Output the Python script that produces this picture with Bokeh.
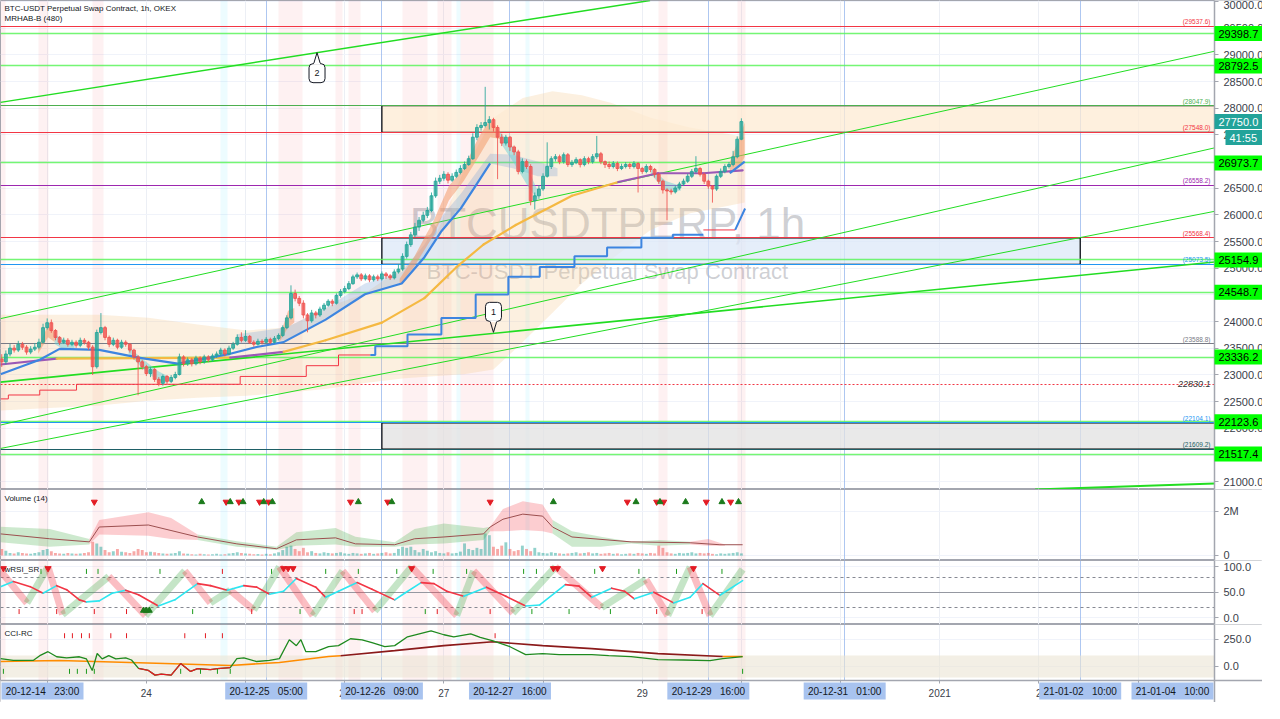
import numpy as np
from bokeh.plotting import figure
from bokeh.layouts import column
from bokeh.models import Range1d, FixedTicker, Label, NumeralTickFormatter, LinearAxis, Grid
from bokeh.embed import file_html
from bokeh.resources import INLINE
from bokeh.core.properties import value

FONT = "Liberation Sans"

# ---------------- DATA (time in hours from 2020-12-24 00:00) ----------------
FIRST_HOUR = -35
OPEN_FIRST = 23300
closes = [23247,23393,23503,23467,23576,23521,23430,23485,23521,23613,
          23887,23979,23833,23704,23613,23650,23576,23613,23558,23650,
          23613,23521,23155,23796,23887,23704,23576,23650,23521,23613,
          23576,23467,23338,23247,23155,23027,23101,22918,22844,22972,
          22881,22954,23009,23338,23210,23284,23210,23320,23247,23338,
          23284,23357,23393,23467,23393,23503,23576,23704,23650,23723,
          23613,23576,23631,23613,23668,23613,23686,23741,23887,24070,
          24528,24436,24345,24125,24016,24162,24125,24235,24308,24382,
          24345,24491,24565,24619,24711,24839,24876,24802,24857,24784,
          24839,24802,24894,24857,24821,24931,24985,25223,25443,25626,
          25772,25900,25992,26083,26358,26632,26687,26761,26651,26724,
          26797,26870,26944,27053,27456,27639,27676,27730,27785,27639,
          27456,27346,27456,27273,27181,26815,26998,26907,26266,26358,
          26486,26724,26907,27053,27090,26998,27127,26944,26980,27035,
          26944,27053,26998,27090,27145,26998,26944,26907,26962,26870,
          26907,26944,26907,26962,26870,26815,26907,26852,26761,26632,
          26468,26449,26431,26504,26578,26632,26724,26815,26870,26761,
          26632,26541,26486,26724,26815,26907,26944,27090,27419,27749]
highs = [23390,23460,23580,23560,23640,23620,23560,23540,23600,23680,
         23960,24060,24040,23860,23730,23700,23690,23660,23650,23700,
         23690,23640,23560,23850,24160,23920,23740,23700,23680,23660,
         23650,23600,23490,23370,23280,23190,23150,23130,22960,23010,
         23000,23000,23060,23400,23370,23330,23320,23360,23350,23380,
         23370,23400,23440,23510,23500,23550,23620,23760,23800,23840,
         23750,23650,23680,23670,23710,23700,23730,23780,23930,24120,
         24680,24600,24480,24400,24160,24220,24200,24280,24350,24420,
         24420,24530,24610,24670,24760,24880,24920,24910,24900,24890,
         24880,24880,24940,24930,24890,24980,25080,25280,25500,25680,
         25850,25960,26060,26150,26420,26700,26750,26820,26800,26780,
         26850,26930,27000,27110,27530,27700,27740,28400,27850,27820,
         27680,27520,27500,27480,27300,27220,27060,27040,26950,26420,
         26560,26780,27360,27100,27140,27130,27170,27160,27030,27080,
         27060,27100,27090,27140,27480,27180,27020,27000,27010,27000,
         26960,26990,26980,27010,26990,26900,26950,26940,26880,26790,
         26660,26500,26490,26550,26620,26680,26770,26860,27100,26900,
         26790,26660,26560,26760,26870,26950,26990,27200,27470,27810]
lows = [23150,23200,23350,23420,23430,23470,23380,23390,23450,23480,
        23590,23850,23790,23650,23560,23580,23530,23540,23510,23520,
        23570,23470,23000,23120,23760,23650,23520,23540,23480,23490,
        23530,23420,23290,22620,23100,22980,22960,22870,22790,22800,
        22830,22850,22920,22990,23160,23170,23160,23180,23200,23210,
        23240,23250,23320,23360,23350,23370,23470,23550,23610,23620,
        23580,23530,23550,23570,23590,23580,23590,23650,23710,23860,
        24040,24380,24290,24060,23800,23980,24060,24090,24200,24280,
        24290,24320,24450,24530,24590,24690,24800,24760,24770,24740,
        24750,24760,24770,24800,24780,24790,24900,24950,25180,25400,
        25580,25700,25860,25940,26050,26320,26580,26640,26590,26620,
        26690,26760,26840,26920,27030,27400,27580,27640,27600,27560,
        26670,27290,27300,27200,27120,26760,26780,26860,26180,26100,
        26300,26450,26700,26860,27000,26950,26960,26900,26900,26950,
        26890,26910,26950,26960,27050,26950,26880,26860,26870,26820,
        26840,26870,26860,26870,26420,26770,26780,26800,26700,26580,
        26400,25900,26380,26400,26470,26540,26600,26690,26780,26720,
        26580,26490,26230,26450,26690,26780,26870,26910,27060,27400]
volume_m = [0.30,0.22,0.12,0.10,0.15,0.12,0.10,0.08,0.12,0.15,
            0.25,0.30,0.20,0.12,0.10,0.08,0.12,0.10,0.08,0.10,
            0.12,0.15,0.62,0.55,0.40,0.25,0.15,0.20,0.30,0.18,
            0.15,0.12,0.20,0.30,0.25,0.15,0.18,0.15,0.12,0.10,
            0.08,0.10,0.12,0.20,0.10,0.08,0.06,0.05,0.08,0.06,
            0.05,0.06,0.08,0.05,0.06,0.10,0.12,0.15,0.12,0.10,
            0.08,0.06,0.07,0.05,0.08,0.06,0.10,0.15,0.25,0.40,
            0.45,0.30,0.20,0.35,0.15,0.20,0.12,0.10,0.15,0.12,
            0.10,0.12,0.15,0.10,0.08,0.12,0.10,0.08,0.10,0.12,
            0.08,0.10,0.12,0.15,0.10,0.12,0.30,0.40,0.35,0.40,
            0.25,0.15,0.30,0.22,0.15,0.20,0.12,0.10,0.15,0.10,
            0.12,0.18,0.55,0.30,0.25,0.35,0.30,1.00,0.92,0.40,
            0.30,0.45,0.60,0.30,0.20,0.25,0.45,0.30,0.20,0.35,
            0.15,0.12,0.10,0.15,0.12,0.10,0.08,0.10,0.12,0.15,
            0.10,0.12,0.15,0.10,0.12,0.08,0.10,0.12,0.08,0.10,
            0.06,0.08,0.10,0.08,0.12,0.10,0.08,0.12,0.10,0.45,
            0.35,0.15,0.10,0.08,0.12,0.10,0.12,0.15,0.10,0.12,
            0.10,0.12,0.08,0.06,0.10,0.08,0.10,0.12,0.15,0.10]

# overlays on price
env_h  = [-35.3,-11.4,0.5,12.4,24.3,33.9,43.4,52.9,62.5,69.6,76.8,84.0,91.1,98.3,105.4,112.6,122.1,131.6,141.2,144.8]
env_hi = [24129,24129,24074,23946,23836,23891,24257,24531,25043,25537,26817,27823,28189,28317,28244,28098,27823,27640,27512,27457]
env_lo = [22336,22428,22519,22574,22611,22665,22739,22848,22940,22976,23013,23104,23616,24165,24714,25171,25720,26031,26177,26232]

fb_h  = [21.9,33.9,43.4,52.9,61.8,67.3,71.3,76.1,79.2,83.2,88.7,94.7,99.5]
fb_hi = [23763,23891,24257,24714,24933,25446,25958,26397,26726,27146,27128,27000,26872]
fb_lo = [23580,23653,24037,24513,24714,25208,25683,26122,26488,26964,26872,26726,26726]

fma_h = [-35.3,-25.8,-21.0,-11.4,-1.9,7.6,20.3,26.7,33.2,43.4,52.9,61.8,67.3,71.3,76.1,79.2,83.2]
fma_v = [23013,23287,23489,23470,23324,23214,23397,23525,23616,24037,24513,24714,25208,25683,26122,26488,26964]
fma2_h = [141.2,144.8]
fma2_v = [26781,27000]

sma_h = [-35.3,-21.7,20.3,33.2,43.4,57.0,67.3,75.1,81.6,89.4,103.0,114.2,123.8,134.7,144.3]
sma_v = [23196,23306,23324,23434,23650,23982,24440,25025,25445,25811,26360,26616,26781,26781,26836]
sma_purple_segments = [0, 2, 11, 12, 13]

stop_red_h = [-35.3,-33.4,-25.8,-16.9,22.7,38.7,46.5,54.2]
stop_red_v = [22552,22625,22716,22826,22973,23174,23375,23375]
stop_blue_h = [54.2,55.4,63.2,71.4,79.7,87.6,95.2,103.6,111.5,119.8,127.4,134.8]
stop_blue_v = [23375,23540,23759,24070,24510,24839,25022,25223,25388,25571,25626,25626]
stop_red2_h = [134.8,142.5]
stop_red2_v = [25718,25718]
stop_blue2_h = [142.5,144.9]
stop_blue2_v = [25718,26120]

rib_up = [([-26.2,-23.8,-22.2],[23397,23708,23616],[23525,23927,23799]),
          ([32.2,34.3,35.8],[23616,23891,23982],[23708,24202,24257]),
          ([61.3,64.9,69.6,73.2,76.8,80.4,83.2,85.6],[24677,25043,25628,26269,26634,27090,27457,27421],[24805,25226,25903,26543,26872,27457,27787,27549]),
          ([141.2,143.6,144.8],[26762,26909,27092],[26998,27457,27732])]
rib_dn = [([-22.2,-19.8,-17.4],[23580,23470,23470],[23763,23653,23580]),
          ([-4.3,-0.7,2.9,5.2],[23397,23104,22885,22848],[23525,23287,23068,22976]),
          ([85.6,88.7,92.3,94.7],[27366,27000,26543,26269],[27549,27275,26872,26451]),
          ([122.1,125.7,129.3],[26762,26451,26451],[26872,26634,26543])]

levels_green = [29398.7, 28792.5, 26973.7, 25154.9, 24548.7, 23336.2, 22123.6, 21517.4]
levels_other = [29537.6, 28047.9, 27548.0, 26558.2, 25568.4, 25073.5, 23588.8, 22104.1, 21609.2]
levels_other_col = ["#f23645", "#4caf50", "#f23645", "#9c27b0", "#f23645", "#2196f3", "#787b86", "#2196f3", "#1e5f66"]
level_dotted = 22830.1
last_price = 27750.0
countdown = "41:55"

zone_left = [57, 57, 57]
zone_right = [300, 226, 300]
zone_top = [28047.9, 25568.4, 22104.1]
zone_bottom = [27548.0, 25073.5, 21609.2]
zone_fill = ["#fdebd3", "#dce8f8", "#e2e2e2"]

tl_x0 = [-35.3,-35.3,-35.3,-35.3,-35.3,215.1]
tl_y0 = [28109,24056,22062,21623,22867,20855]
tl_x1 = [121.9,258.5,258.5,258.5,258.5,258.5]
tl_y1 = [30018,29067,27256,26067,25116,20965]
tl_w  = [1.5,1,1,1,1.6,2]

callout_h = [41.3, 84.0]
callout_apex = [29040, 23799]
callout_text = ["2", "1"]
callout_up = [True, False]

bg_pink = [(-35.3,-34.2),(-26.2,-23.8),(-13.1,-10.3),(32.0,37.9),(45.8,47.5),(49.0,51.9),(62.0,68.0),(70.5,73.9),(76.0,83.9),(124.0,126.0),(143.0,145.0)]
bg_cyan = [(17.9,19.6),(75.0,76.0),(91.8,92.8)]

event_h = [29, 57, 88, 136, 169, 226]
event_txt = ["20-12-25   05:00", "20-12-26   09:00", "20-12-27   16:00", "20-12-29   16:00", "20-12-31   01:00", "21-01-02   10:00"]
event_left_txt = "20-12-14   23:00"
event_right_txt = "21-01-04   10:00"

day_ticks = [-24, 0, 24, 48, 72, 96, 120, 144, 168, 192, 216, 240]
day_labels = ["23", "24", "25", "26", "27", "28", "29", "30", "31", "2021", "2", "3"]

# volume panel
vma_h = [-35.3,-23.4,-13.8,-11.4,0.5,12.4,21.9,31.5,36.3,45.8,50.6,60.1,64.9,72.0,81.6,83.2,86.3,91.1,95.9,98.3,103.0,117.3,131.6,138.8,144.3]
vma_v = [0.98,0.76,0.62,1.29,1.38,0.84,0.53,0.31,0.71,0.80,0.53,0.49,0.76,0.84,0.98,1.29,1.64,1.87,1.78,1.29,0.84,0.62,0.58,0.49,0.49]
vband_up = [([-35.3,-23.4,-13.8],[0.60,0.40,0.50],[1.30,1.20,0.75]),
            ([12.4,21.9,31.5],[0.70,0.40,0.25],[0.95,0.65,0.40]),
            ([31.5,36.3,45.8,50.6,60.1],[0.25,0.45,0.50,0.40,0.40],[0.40,1.05,1.25,0.85,0.60]),
            ([60.1,64.9,72.0,81.6,83.2],[0.40,0.50,0.55,0.70,1.10],[0.60,1.20,1.45,1.25,1.30]),
            ([98.3,103.0,110.0,117.3],[1.00,0.40,0.40,0.55],[1.60,1.10,0.85,0.62]),
            ([117.3,124.0,131.6],[0.55,0.45,0.50],[0.62,0.70,0.62])]
vband_dn = [([-13.8,-11.4,0.5,6.0,12.4],[0.50,0.95,0.90,0.75,0.70],[0.75,1.60,1.95,1.70,0.95]),
            ([83.2,86.3,91.1,95.9,98.3],[1.10,1.10,1.15,1.10,1.00],[1.30,2.10,2.45,2.30,1.60]),
            ([131.6,136.0,140.0],[0.50,0.45,0.45],[0.62,0.75,0.50])]
vol_tri_dn = [-12.6,19.3,22.4,27.4,29.6,49.4,58.4,83.2,116.4,123.5,125.2,135.5,141.4]
vol_tri_up = [13.4,20.3,23.4,28.4,30.5,51.3,59.4,98.5,118.5,124.3,130.5,139.3,143.3]

# wRSI panel
ws_h = [-35.3,-32.2,-28.1,-25.0,-21.7,-19.3,-16.2,-14.5,-11.4,-8.3,-5.0,-1.9,2.9,6.9,12.4,15.5,19.6,23.6,26.7,29.8,
        33.2,36.3,41.0,43.4,46.5,51.0,54.6,60.1,62.5,66.5,69.6,72.7,76.8,82.3,87.0,91.8,95.2,101.4,104.7,107.8,
        112.6,115.7,118.1,122.8,127.6,131.6,134.7,138.8,144.3]
ws_v = [61,71,61,48,63,55,35,31,33,48,54,45,23,35,67,63,54,63,60,46,
        52,77,60,40,52,69,56,35,48,69,67,52,42,60,42,23,25,65,62,40,
        58,52,37,50,29,40,67,44,73]
wf_h = [-35.3,-28.9,-23.8,-20.3,-9.1,-0.2,9.3,15.5,20.3,26.0,32.2,40.3,47.5,55.3,64.2,75.1,79.2,88.7,99.0,110.2,120.9,126.2,131.6,136.4,144.3]
wf_v = [92,29,100,6,81,4,92,29,54,15,100,4,92,13,100,4,92,9,100,20,75,4,100,4,95]
wr_tri_dn = [-34.6,-23.8,33.2,34.3,35.5,64.2,98.5,99.5,110.4,132.4]
wr_tri_up = [-0.7,0.0,0.7]
wr_top_green = [-25.5,-14.5,-11.7,3.3,30.3,43.4,51.3,60.6,69.4,77.5,91.3,94.4,108.5,119.2,128.3,139.3]
wr_top_red = [18.4]
wr_bot_red = [-30.8,-21.7,-12.6,-4.8,25.5,50.3,52.2,70.4,83.2,123.5,134.5]
wr_bot_green = [11.2,37.2,67.5,93.3,102.3,112.3]

# CCI panel
cci_h = [-35.3,-32.2,-27.4,-25.8,-23.8,-21.7,-19.3,-16.2,-14.5,-13.1,-11.9,-10.7,-9.1,-7.4,-5.0,-3.6,-1.9,0.5,2.1,3.6,
         6.0,8.3,10.7,12.4,15.5,17.2,20.3,21.9,23.6,26.7,29.8,32.2,34.6,36.3,37.4,38.6,41.0,44.1,46.5,49.4,
         52.2,54.6,57.7,60.1,63.2,68.9,72.0,74.4,78.5,80.8,83.9,88.0,91.8,95.9,99.9,103.7,107.8,111.9,117.3,123.8,
         130.0,136.4,139.5,144.3]
cci_v = [73,56,56,100,137,90,80,90,70,-37,120,70,100,70,80,60,-18,-37,-80,-70,
         -80,27,-46,-20,-30,-20,-10,73,80,46,56,73,248,193,248,137,137,183,193,257,
         247,220,183,193,275,330,294,275,303,270,238,183,110,120,110,110,110,100,92,64,
         60,55,73,92]
cci_red_range = (16, 26)
sig_h = [-35.3,-21.0,4.5,20.3,32.2,44.1,47.0,60.1,72.0,83.9,95.9,107.8,123.8,139.5,144.3]
sig_v = [46,55,27,9,37,92,100,147,193,229,193,165,119,92,92]
sig_dark_range = (6, 13)
cci_top_red = [-19.8,-17.9,-15.7,-13.8,-8.6,-4.8,9.3,14.3,18.4,84.4]
cci_bot_green = [-34.6,-18.6,-16.7,-14.5,-12.6,8.3,13.1,17.2,20.3,144.3]

# ---------------- derived ----------------
hours = list(range(FIRST_HOUR, FIRST_HOUR + len(closes)))
opens = [OPEN_FIRST] + closes[:-1]
up = [c >= o for o, c in zip(opens, closes)]
ccol = ["#26a69a" if u else "#ef5350" for u in up]
body_top = [max(o, c) for o, c in zip(opens, closes)]
body_bot = [min(o, c) for o, c in zip(opens, closes)]
hi_w = [max(h, t) for h, t in zip(highs, body_top)]
lo_w = [min(l, b) for l, b in zip(lows, body_bot)]

# ---------------- geometry ----------------
TW = 1262            # full frame width (plot area + price scale)
AXW = 48             # price scale width
PW = TW - AXW
X0, X1 = -35.3, 258.5
PXPH = PW / (X1 - X0)
X_EXT = X1 + AXW / PXPH
xr = Range1d(X0, X_EXT)
AX = "#a3a6af"


def make_fig(frame_h, y0, y1, ticks, fmt=None, overrides=None):
    f = figure(frame_width=TW, frame_height=frame_h, x_range=xr, y_range=Range1d(y0, y1),
               y_axis_location=None, x_axis_location=None,
               toolbar_location=None, output_backend="svg",
               min_border_left=0, min_border_right=0, min_border_top=0, min_border_bottom=0)
    f.outline_line_color = AX
    f.outline_line_width = 1
    for g in list(f.center):
        if isinstance(g, Grid):
            f.center.remove(g)
    f.add_layout(Grid(dimension=0, ticker=FixedTicker(ticks=day_ticks), grid_line_color="#eceff5"), "center")
    f.add_layout(Grid(dimension=1, ticker=FixedTicker(ticks=ticks), grid_line_color="#f0f3fa"), "center")
    ya = LinearAxis(fixed_location=X1, ticker=FixedTicker(ticks=ticks))
    if fmt:
        ya.formatter = NumeralTickFormatter(format=fmt)
    if overrides:
        ya.major_label_overrides = overrides
    ya.major_label_text_font = FONT
    ya.major_label_text_font_size = "11px"
    ya.major_label_text_color = "#3a3e4a"
    ya.axis_line_color = AX
    ya.axis_line_width = 1.5
    ya.major_tick_line_color = AX
    ya.major_tick_out = 4
    ya.major_tick_in = 0
    ya.minor_tick_line_color = None
    ya.major_label_standoff = 5
    f.add_layout(ya, "right")
    return f


def cover_scale(f, y0, y1):
    span = y1 - y0
    f.quad(left=[X1], right=[X_EXT + 5], bottom=[y0 - span], top=[y1 + span],
           fill_color="white", line_color=None)


def lab(fig, x, y, text, size="11px", color="#131722", align="left", baseline="middle",
        xo=0, yo=0, style="normal", level="annotation", alpha=1.0):
    fig.add_layout(Label(x=x, y=y, text=text, text_font=FONT, text_font_size=size, text_color=color,
                         text_align=align, text_baseline=baseline, x_offset=xo, y_offset=yo,
                         text_font_style=style, text_alpha=alpha, level=level))


def box_labels(f, xs, ys, texts, w, h, bg, fg, align="left", size="11px", line=None):
    f.rect(x=xs, y=ys, width=w, height=h, width_units="screen", height_units="screen",
           fill_color=bg, line_color=line, level="overlay")
    if align == "left":
        tx = [x - (w / 2 - 4) / PXPH for x in xs]
    else:
        tx = xs
    f.text(x=tx, y=ys, text=texts, text_align=align, text_baseline="middle",
           text_font=value(FONT), text_font_size=size, text_color=fg, level="overlay")


def bg_columns(f):
    f.vstrip(x0=[a for a, b in bg_pink], x1=[b for a, b in bg_pink], fill_color="#f23645", fill_alpha=0.07, line_color=None)
    f.vstrip(x0=[a for a, b in bg_cyan], x1=[b for a, b in bg_cyan], fill_color="#00d8ff", fill_alpha=0.07, line_color=None)
    f.vspan(x=event_h, line_color="#9ab9ee", line_width=1, line_alpha=0.8)


# ---------------- MAIN PRICE PANEL ----------------
MY0, MY1, MH = 20854, 30018, 489
PXH = (MY1 - MY0) / MH
pm = make_fig(MH, MY0, MY1, list(range(21000, 30001, 500)), fmt="0.0")
bg_columns(pm)
lab(pm, (X0 + X1) / 2, 25848, "BTCUSDTPERP, 1h", size="44px", color="#8a8d96", align="center", alpha=0.42, level="underlay")
lab(pm, (X0 + X1) / 2, 24933, "BTC-USDT Perpetual Swap Contract", size="22px", color="#8a8d96", align="center", alpha=0.42, level="underlay")

pm.varea(x=env_h, y1=env_lo, y2=env_hi, fill_color="#f5c88f", fill_alpha=0.28)
pm.quad(left=zone_left, right=zone_right, top=zone_top, bottom=zone_bottom,
        fill_color=zone_fill, fill_alpha=0.75, line_color="black", line_width=1.2)
pm.hspan(y=levels_green, line_color="#5cf55c", line_width=1.3, line_alpha=0.85)
pm.hspan(y=levels_other, line_color=levels_other_col, line_width=1.1)
pm.hspan(y=[level_dotted], line_color="#f23645", line_width=1.2, line_dash="2 2")
pm.segment(x0=tl_x0, y0=tl_y0, x1=tl_x1, y1=tl_y1, line_color="#22dd22", line_width=tl_w)
pm.varea(x=fb_h, y1=fb_lo, y2=fb_hi, fill_color="#7ea6d8", fill_alpha=0.3)
for hs, lo, hi in rib_up:
    pm.varea(x=hs, y1=lo, y2=hi, fill_color="#f29a6c", fill_alpha=0.55)
for hs, lo, hi in rib_dn:
    pm.varea(x=hs, y1=lo, y2=hi, fill_color="#6ccfd6", fill_alpha=0.5)

seg_col = ["#9b59b6" if i in sma_purple_segments else "#f5b942" for i in range(len(sma_h) - 1)]
pm.segment(x0=sma_h[:-1], y0=sma_v[:-1], x1=sma_h[1:], y1=sma_v[1:], line_color=seg_col, line_width=2.2, line_cap="round")
pm.line(fma_h, fma_v, line_color="#3d85e0", line_width=2.2)
pm.line(fma2_h, fma2_v, line_color="#3d85e0", line_width=2.2)
pm.step(stop_red_h, stop_red_v, mode="after", line_color="#f23645", line_width=1)
pm.step(stop_blue_h, stop_blue_v, mode="after", line_color="#3d85e0", line_width=2)
pm.line(stop_red2_h, stop_red2_v, line_color="#f23645", line_width=1)
pm.line(stop_blue2_h, stop_blue2_v, line_color="#3d85e0", line_width=2)

pm.segment(x0=hours, y0=hi_w, x1=hours, y1=lo_w, line_color=ccol, line_width=1, line_alpha=0.85)
pm.vbar(x=hours, width=0.68, top=body_top, bottom=body_bot, fill_color=ccol, fill_alpha=0.65,
        line_color=ccol, line_alpha=0.9)

# callouts (speech-bubble shaped markers on the trend lines)
for h, apex, txt, isup in zip(callout_h, callout_apex, callout_text, callout_up):
    sgn = -1 if isup else 1
    base = apex + sgn * 11 * PXH
    centre = apex + sgn * 20.5 * PXH
    pm.line([h - 0.8, h, h + 0.8], [base, apex, base], line_color="#131722", line_width=1)
    pm.rect(x=[h], y=[centre], width=16, height=19, width_units="screen", height_units="screen",
            fill_color="white", line_color="#131722", line_width=1, border_radius=4)
    pm.line([h - 0.75, h + 0.75], [base, base], line_color="white", line_width=1.5)
    pm.text(x=[h], y=[centre], text=[txt], text_align="center", text_baseline="middle",
            text_font=value(FONT), text_font_size="9px", text_color="#131722")

lab(pm, X0, MY1, "BTC-USDT Perpetual Swap Contract, 1h, OKEX", size="8px", color="#131722", baseline="top", xo=4, yo=-3)
lab(pm, X0, MY1, "MRHAB-B (480)", size="8px", color="#131722", baseline="top", xo=4, yo=-13)

for v, c in zip(levels_other, levels_other_col):
    lab(pm, X1, v, "(%.1f)" % v, size="6.5px", color=c, align="right", baseline="bottom", xo=-4, yo=1)
lab(pm, X1, level_dotted, "%.1f" % level_dotted, size="9px", color="#333333", align="right", xo=-4, style="italic")

cover_scale(pm, MY0, MY1)
mid_scale = X1 + (AXW / 2) / PXPH
box_labels(pm, [mid_scale] * len(levels_green), levels_green, ["%.1f" % v for v in levels_green],
           AXW, 15, "#00ff00", "black")
box_labels(pm, [mid_scale], [last_price], ["%.1f" % last_price], AXW, 15, "#22a39a", "white")
cd_w = 37
box_labels(pm, [X_EXT - (cd_w / 2) / PXPH], [last_price - 16 * PXH], [countdown], cd_w, 15, "#22a39a", "white")

# ---------------- VOLUME PANEL ----------------
VY0, VY1 = -0.22, 2.98
pv = make_fig(71, VY0, VY1, [0, 2], overrides={0: "0", 2: "2M"})
bg_columns(pv)
pv.vbar(x=hours, top=volume_m, width=0.7, fill_color=ccol, fill_alpha=0.5, line_color=None)
for hs, lo, hi in vband_up:
    pv.varea(x=hs, y1=lo, y2=hi, fill_color="#4caf50", fill_alpha=0.28)
for hs, lo, hi in vband_dn:
    pv.varea(x=hs, y1=lo, y2=hi, fill_color="#f23645", fill_alpha=0.25)
pv.line(vma_h, vma_v, line_color="#9c4f4f", line_width=1)
pv.scatter(vol_tri_dn, [2.42] * len(vol_tri_dn), marker="inverted_triangle", size=6, color="#e31b23")
pv.scatter(vol_tri_up, [2.42] * len(vol_tri_up), marker="triangle", size=6, color="#1b7a1b")
lab(pv, X0, VY1, "Volume (14)", size="8px", baseline="top", xo=4, yo=-4)
cover_scale(pv, VY0, VY1)

# ---------------- wRSI PANEL ----------------
WY0, WY1 = -13.5, 112.5
pw = make_fig(64, WY0, WY1, [0, 50, 100], fmt="0.0")
bg_columns(pw)
pw.hspan(y=[80, 20], line_color="#868993", line_width=1, line_dash="3 3")
pw.hspan(y=[50], line_color="#9598a1", line_width=1)
fcol = ["#4caf50" if b > a else "#f23645" for a, b in zip(wf_v[:-1], wf_v[1:])]
pw.segment(x0=wf_h[:-1], y0=wf_v[:-1], x1=wf_h[1:], y1=wf_v[1:], line_color=fcol, line_width=7, line_alpha=0.32)
scol = ["#2ee6f0" if b > a else "#f23645" for a, b in zip(ws_v[:-1], ws_v[1:])]
pw.segment(x0=ws_h[:-1], y0=ws_v[:-1], x1=ws_h[1:], y1=ws_v[1:], line_color=scol, line_width=1.6, line_cap="round")
pw.scatter(wr_tri_dn, [97] * len(wr_tri_dn), marker="inverted_triangle", size=6, color="#e31b23")
pw.scatter(wr_tri_up, [14] * len(wr_tri_up), marker="triangle", size=6, color="#1b7a1b")
pw.scatter(wr_top_green, [91] * len(wr_top_green), marker="dash", angle=np.pi / 2, size=5, line_color="#1b9a1b", line_width=1)
pw.scatter(wr_top_red, [91] * len(wr_top_red), marker="dash", angle=np.pi / 2, size=5, line_color="#e31b23", line_width=1)
pw.scatter(wr_bot_red, [12] * len(wr_bot_red), marker="dash", angle=np.pi / 2, size=5, line_color="#e31b23", line_width=1)
pw.scatter(wr_bot_green, [12] * len(wr_bot_green), marker="dash", angle=np.pi / 2, size=5, line_color="#1b9a1b", line_width=1)
lab(pw, X0, WY1, "wRSI_SR", size="8px", baseline="top", xo=4, yo=-4)
cover_scale(pw, WY0, WY1)

# ---------------- CCI PANEL (with the time scale strip below) ----------------
CY0, CY1, CH, SH = -130, 389, 56, 22
UPP = (CY1 - CY0) / CH
CYB = CY0 - SH * UPP
pc = make_fig(CH + SH, CYB, CY1, [0, 250], fmt="0.0")
bg_columns(pc)
pc.hstrip(y0=[-100], y1=[100], fill_color="#ebe4d4", fill_alpha=0.6, line_color=None)
a, b = sig_dark_range
pc.line(sig_h[:a + 1], sig_v[:a + 1], line_color="#ff8c00", line_width=1.6)
pc.line(sig_h[a:b + 1], sig_v[a:b + 1], line_color="#8b1a1a", line_width=1.6)
pc.line(sig_h[b:], sig_v[b:], line_color="#ff8c00", line_width=1.6)
pc.line(cci_h, cci_v, line_color="#1f8a1f", line_width=1.3)
a, b = cci_red_range
pc.line(cci_h[a:b + 1], cci_v[a:b + 1], line_color="#e31b23", line_width=1.3)
pc.scatter(cci_top_red, [285] * len(cci_top_red), marker="dash", angle=np.pi / 2, size=5, line_color="#e31b23", line_width=1)
pc.scatter(cci_bot_green, [-45] * len(cci_bot_green), marker="dash", angle=np.pi / 2, size=5, line_color="#1b9a1b", line_width=1)
lab(pc, X0, CY1, "CCI-RC", size="8px", baseline="top", xo=4, yo=-4)
cover_scale(pc, CY0, CY1)
pc.quad(left=[X0 - 5], right=[X_EXT + 5], bottom=[CYB - 50], top=[CY0], fill_color="white", line_color=None)

xa = LinearAxis(fixed_location=CY0, ticker=FixedTicker(ticks=day_ticks))
xa.major_label_overrides = {t: s for t, s in zip(day_ticks, day_labels)}
xa.major_label_text_font = FONT
xa.major_label_text_font_size = "10px"
xa.major_label_text_color = "#3a3e4a"
xa.axis_line_color = AX
xa.axis_line_width = 1.5
xa.major_tick_line_color = AX
xa.major_tick_out = 3
xa.major_tick_in = 0
xa.minor_tick_line_color = None
xa.major_label_standoff = 5
pc.add_layout(xa, "below")

ybox = CY0 - 10.5 * UPP
BOX = "#a8c3ef"
BW = 82
ev_x = list(event_h) + [X0 + (BW / 2 + 1) / PXPH, X1 - (BW / 2 + 1) / PXPH]
ev_t = [t.replace(" ", "\u00a0") for t in event_txt + [event_left_txt, event_right_txt]]
box_labels(pc, ev_x, [ybox] * len(ev_x), ev_t, BW, 17, BOX, "#131722", align="center", size="10px")

layout = column(pm, pv, pw, pc, spacing=0)
open("out.html", "w").write(file_html(layout, INLINE))
